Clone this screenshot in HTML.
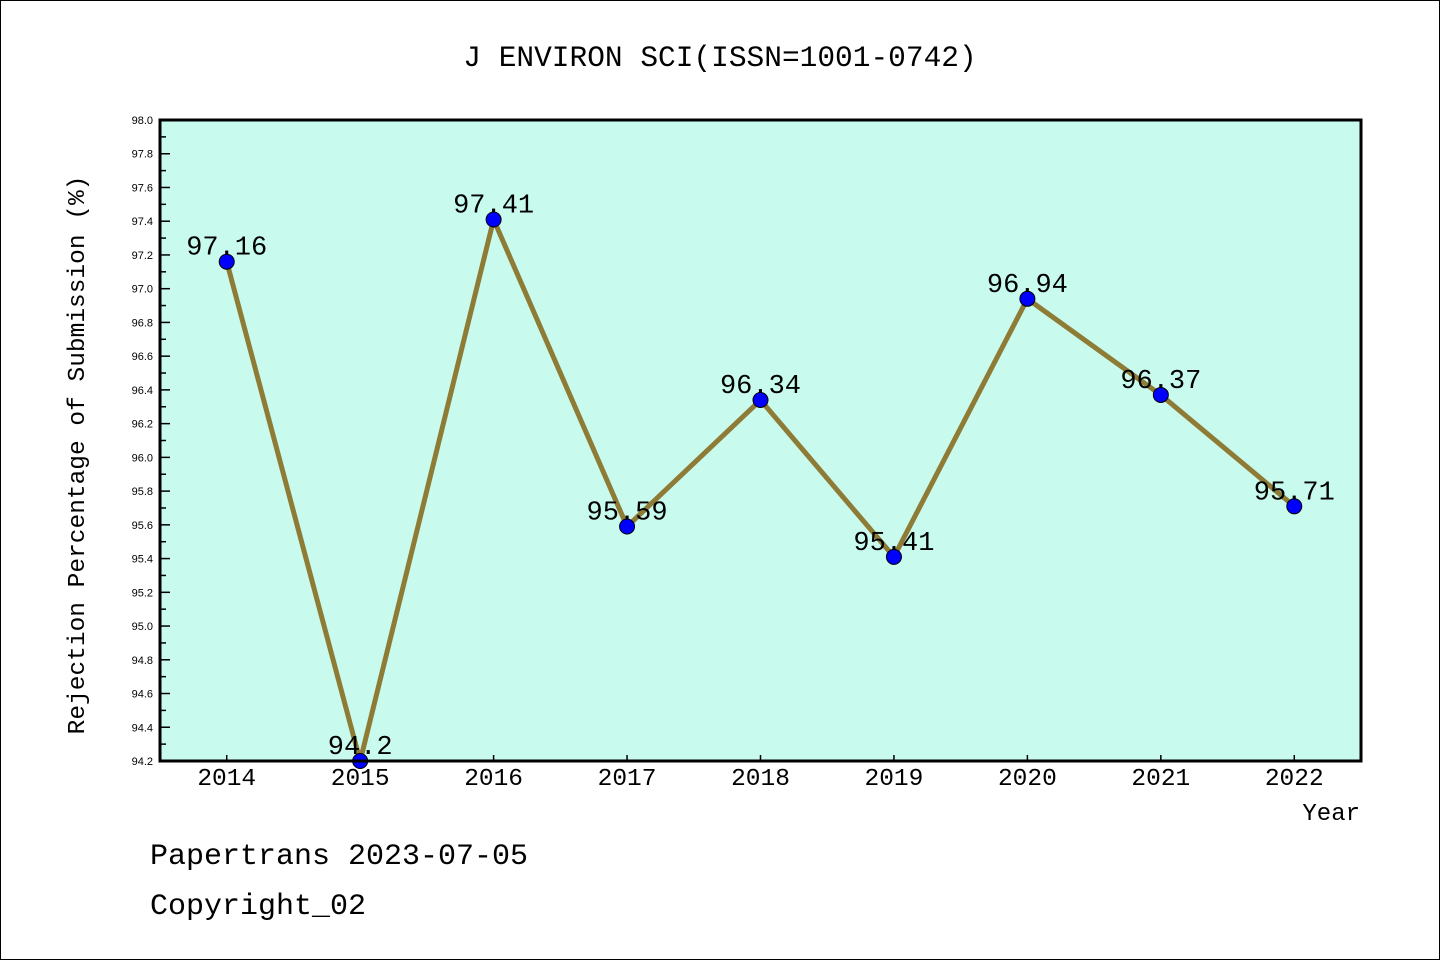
<!DOCTYPE html>
<html><head><meta charset="utf-8"><style>
body{margin:0;background:#fff}
svg{display:block;font-family:"Liberation Mono","Noto Sans CJK SC",monospace}
</style></head><body>
<svg width="1440" height="960" viewBox="0 0 1440 960">
<rect x="0.5" y="0.5" width="1439" height="959" fill="#fff" stroke="#000"/>
<text x="720" y="66" font-size="29.5" text-anchor="middle">J ENVIRON SCI(ISSN=1001-0742)</text>
<rect x="160" y="120" width="1201" height="641" fill="#c8fbee"/>
<g id="axes"></g>
<g id="series"></g>
<rect x="160" y="120" width="1201" height="641" fill="none" stroke="#000" stroke-width="3"/>
<text transform="translate(84,455) rotate(-90)" font-size="24.5" text-anchor="middle">Rejection Percentage of Submission (%)</text>
<text x="1360" y="820" font-size="24" text-anchor="end">Year</text>
<text x="150" y="864" font-size="30">Papertrans 2023-07-05</text>
<text x="150" y="914" font-size="30">Copyright_02</text>
</svg>
<script>
const years=[2014,2015,2016,2017,2018,2019,2020,2021,2022];
const values=[97.16,94.2,97.41,95.59,96.34,95.41,96.94,96.37,95.71];
const yTicks=["94.2","94.4","94.6","94.8","95.0","95.2","95.4","95.6","95.8","96.0","96.2","96.4","96.6","96.8","97.0","97.2","97.4","97.6","97.8","98.0"];
const NS="http://www.w3.org/2000/svg";
const L=160,R=1361,T=120,B=761,ymin=94.2,ymax=98.0,xmin=2013.5,xmax=2022.5;
const sx=v=>L+(v-xmin)/(xmax-xmin)*(R-L);
const sy=v=>B-(v-ymin)/(ymax-ymin)*(B-T);
function mk(tag,attrs,parent,text){const e=document.createElementNS(NS,tag);for(const k in attrs)e.setAttribute(k,attrs[k]);if(text!==undefined)e.textContent=text;parent.appendChild(e);return e;}
const axes=document.getElementById('axes'),ser=document.getElementById('series');
yTicks.forEach((t,i)=>{const v=parseFloat(t),y=sy(v);
 const ln=mk('line',{x1:L,x2:L+10,y1:y,y2:y,stroke:'#000','stroke-width':1.5},axes);
 
 
 if(i<yTicks.length-1){const m=sy(v+0.1);const mn=mk('line',{x1:L,x2:L+6,y1:m,y2:m,stroke:'#000','stroke-width':1.5},axes);
  
  }
 const tx=mk('text',{x:153,y:y+4,'font-size':11,'text-anchor':'end','font-family':'Liberation Sans, sans-serif'},axes,t);
 
 
});
years.forEach(yr=>{const x=sx(yr);
 const ln=mk('line',{x1:x,x2:x,y1:B,y2:B-6,stroke:'#000','stroke-width':1.5},axes);
 
 
 const tx=mk('text',{x:x,y:785,'font-size':24.5,'text-anchor':'middle'},axes,String(yr));
 
 
});
const pts=years.map((yr,i)=>sx(yr)+','+sy(values[i])).join(' ');
const pl=mk('polyline',{points:pts,fill:'none',stroke:'#8e7b36','stroke-width':5,'stroke-linejoin':'round'},ser);


years.forEach((yr,i)=>{const x=sx(yr),y=sy(values[i]);
 const c=mk('circle',{cx:x,cy:y,r:7.5,fill:'#0000ff',stroke:'#000','stroke-width':1},ser);
 
 
 const t=mk('text',{x:x,y:y-7,'font-size':27,'text-anchor':'middle'},ser,String(values[i]));
 
 
});
</script>
</body></html>
